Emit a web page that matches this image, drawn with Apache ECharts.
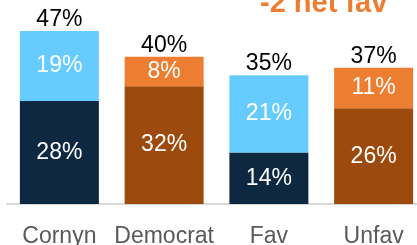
<!DOCTYPE html>
<html>
<head>
<meta charset="utf-8">
<script src="https://cdn.jsdelivr.net/npm/echarts@6/dist/echarts.min.js"></script>
<style>
  html, body { margin: 0; padding: 0; background: #fff; }
  #main { width: 417px; height: 245px; }
</style>
</head>
<body>
<div id="main"></div>
<script>
var categories = ['Cornyn', 'Democrat', 'Fav', 'Unfav'];
var bottomValues = [28, 32, 14, 26];
var topValues = [19, 8, 21, 11];
var totals = [47, 40, 35, 37];
var bottomColors = ['#0E2841', '#9C4A0E', '#0E2841', '#9C4A0E'];
var topColors = ['#66CCFF', '#ED7D31', '#66CCFF', '#ED7D31'];

var chart = echarts.init(document.getElementById('main'));

function colored(values, colors) {
  return values.map(function (v, i) {
    return { value: v, itemStyle: { color: colors[i] } };
  });
}

var font = 'Liberation Sans, Arial, sans-serif';

var option = {
  animation: false,
  grid: { left: 7, width: 419, top: 20, height: 184, outerBoundsMode: 'none', containLabel: false },
  xAxis: {
    type: 'category',
    data: categories,
    axisLine: { lineStyle: { color: '#D9D9D9', width: 2 } },
    axisTick: { show: false },
    axisLabel: { interval: 0, color: '#595959', fontSize: 23, fontFamily: font, margin: 21 }
  },
  yAxis: {
    type: 'value',
    min: 0,
    max: 50,
    show: false
  },
  graphic: [{
    type: 'text',
    left: 260,
    top: -11,
    style: {
      text: '-2 net fav',
      fill: '#ED7D31',
      font: 'bold 29px ' + font
    }
  }],
  series: [
    {
      type: 'bar',
      stack: 'a',
      barWidth: 79,
      data: colored(bottomValues, bottomColors),
      label: { show: true, position: 'inside', color: '#fff', fontSize: 23, fontFamily: font, formatter: '{c}%' }
    },
    {
      type: 'bar',
      stack: 'a',
      barWidth: 79,
      data: colored(topValues, topColors),
      label: { show: true, position: 'inside', color: '#fff', fontSize: 23, fontFamily: font, formatter: '{c}%' }
    },
    {
      type: 'bar',
      barWidth: 79,
      barGap: '-100%',
      z: 1,
      data: totals,
      itemStyle: { color: 'transparent' },
      label: { show: true, position: 'top', distance: 0, color: '#000', fontSize: 23, fontFamily: font, formatter: '{c}%' }
    }
  ]
};

chart.setOption(option);
</script>
</body>
</html>
